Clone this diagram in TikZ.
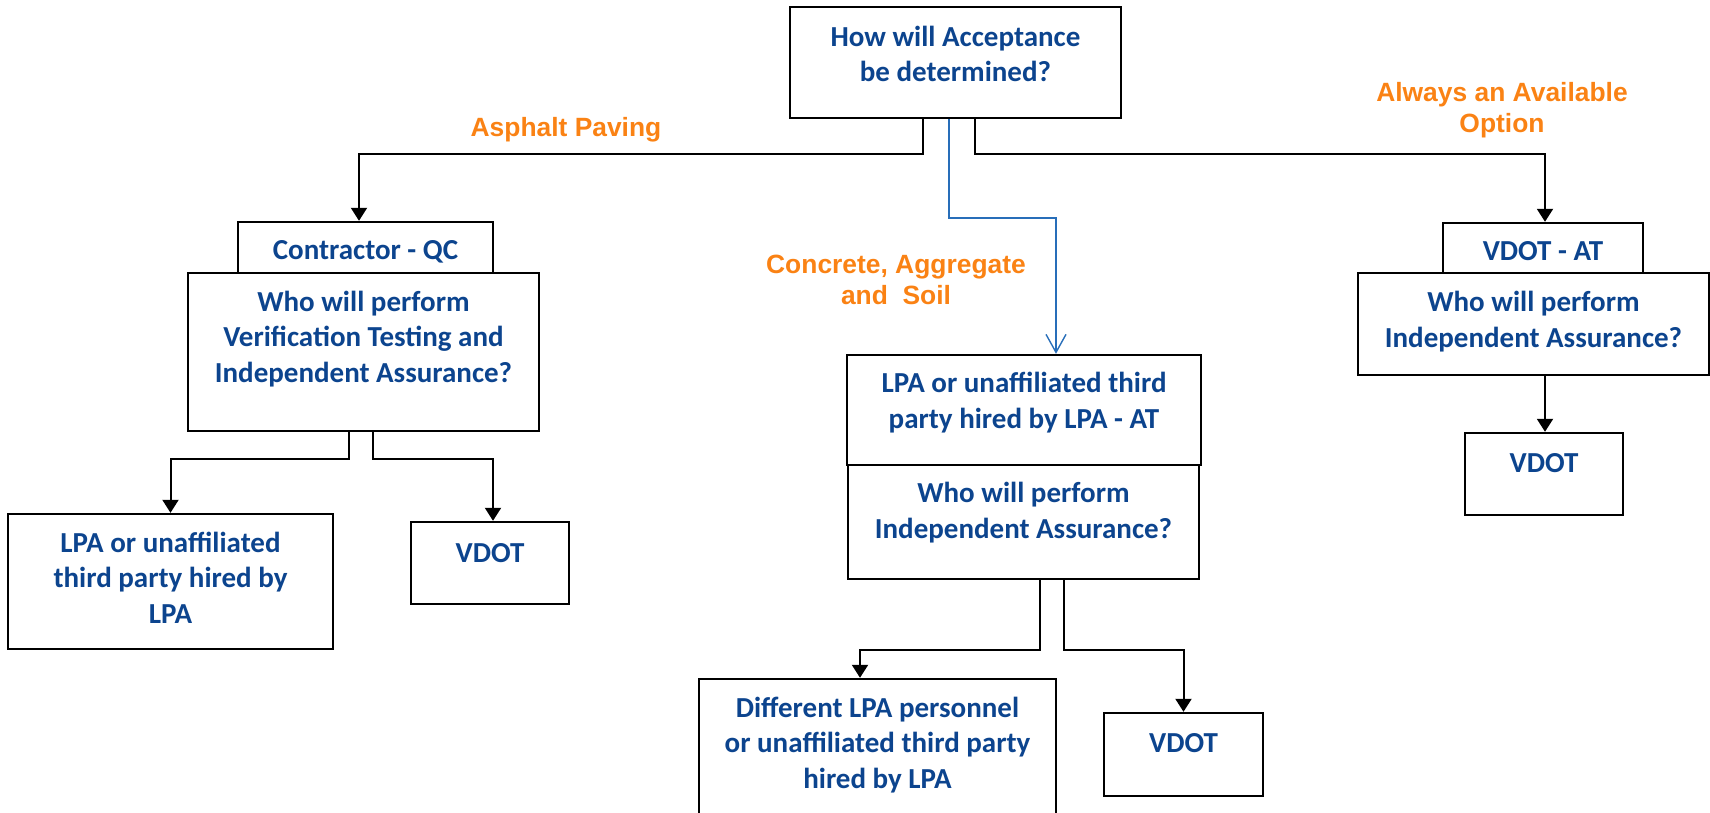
\documentclass[tikz,border=0pt]{standalone}
\usepackage{fontspec}
\setmainfont{Carlito}
\newfontfamily\arialfont{Liberation Sans}
\usetikzlibrary{arrows.meta}

\definecolor{textblue}{RGB}{12,68,142}
\definecolor{pathorange}{RGB}{250,130,20}
\definecolor{lineblue}{RGB}{40,110,185}

\tikzset{
  box/.style={draw, line width=1.2pt, inner sep=0pt},
  boxtext/.style={font=\bfseries\fontsize{14.5}{17.75}\selectfont, text=textblue, align=center, anchor=base, inner sep=0pt},
  pathlabel/.style={font=\arialfont\bfseries\fontsize{13.2}{15.5}\selectfont, text=pathorange, align=center, anchor=base, inner sep=0pt},
  arr/.style={line width=1pt, -{Triangle[width=8pt,length=6.5pt]}},
  bluearr/.style={draw=lineblue, line width=0.7pt, -{Straight Barb[width=10pt,length=9pt]}}
}

\begin{document}
\begin{tikzpicture}[x=0.5pt, y=-0.5pt]
    \useasboundingbox (0,0) rectangle (1710,813);

    % boxes
    \node[box, minimum width=165.5pt, minimum height=55.5pt] (accept) at (955.5,62.5) {};
    \node[box, minimum width=127.5pt, minimum height=25.5pt] (contractor) at (365.5,247.5) {};
    \node[box, minimum width=175.5pt, minimum height=79pt] (whoVT) at (363.5,352) {};
    \node[box, minimum width=162.5pt, minimum height=67.5pt] (lpaL) at (170.5,581.5) {};
    \node[box, minimum width=79pt, minimum height=41pt] (vdotL) at (490,563) {};
    \node[box, minimum width=177pt, minimum height=55pt] (lpaAT) at (1024,410) {};
    \node[box, minimum width=175.5pt, minimum height=57pt] (whoIAm) at (1023.5,522) {};
    \node[box, minimum width=178.5pt, minimum height=69.5pt] (diffLPA) at (877.5,748.5) {};
    \node[box, minimum width=79.5pt, minimum height=41.5pt] (vdotM) at (1183.5,754.5) {};
    \node[box, minimum width=100pt, minimum height=25pt] (vdotAT) at (1543,248) {};
    \node[box, minimum width=175.5pt, minimum height=51pt] (whoIAr) at (1533.5,324) {};
    \node[box, minimum width=79pt, minimum height=41pt] (vdotR) at (1544,474) {};

    % box texts (base = last line)
    \node[boxtext] (acceptT) at (955.5,82) {How will Acceptance\\be determined?};
    \node[boxtext] (contractorT) at (365.5,259) {Contractor - QC};
    \node[boxtext] (whoVTT) at (363.5,382) {Who will perform\\Verification Testing and\\Independent Assurance?};
    \node[boxtext] (lpaLT) at (170.5,623) {LPA or unaffiliated\\third party hired by\\LPA};
    \node[boxtext] (vdotLT) at (490,562) {VDOT};
    \node[boxtext] (lpaATT) at (1024,428) {LPA or unaffiliated third\\party hired by LPA - AT};
    \node[boxtext] (whoIAmT) at (1023.5,538) {Who will perform\\Independent Assurance?};
    \node[boxtext] (diffLPAT) at (877.5,788) {Different LPA personnel\\or unaffiliated third party\\hired by LPA};
    \node[boxtext] (vdotMT) at (1183.5,752) {VDOT};
    \node[boxtext] (vdotATT) at (1543,261) {VDOT - AT};
    \node[boxtext] (whoIArT) at (1533.5,347) {Who will perform\\Independent Assurance?};
    \node[boxtext] (vdotRT) at (1544,472) {VDOT};

    % path labels
    \node[pathlabel] (asphalt) at (566,137) {Asphalt Paving};
    \node[pathlabel] (always) at (1502,133) {Always an Available\\Option};
    \node[pathlabel] (concrete) at (896,304) {Concrete, Aggregate\\and\ \ Soil};

    % connectors
    \draw[arr] ([xshift=-16.25pt]accept.south) -- ++(0,35) -| ([xshift=-3.25pt]contractor.north);
    \draw[arr] ([xshift=9.75pt]accept.south) -- ++(0,35) -| ([xshift=1pt]vdotAT.north);
    \draw[bluearr] ([xshift=-3.25pt]accept.south) -- ++(0,99) -| ([xshift=16pt]lpaAT.north);
    \draw[arr] ([xshift=-7.25pt]whoVT.south) -- ++(0,27) -| (lpaL.north);
    \draw[arr] ([xshift=4.75pt]whoVT.south) -- ++(0,27) -| ([xshift=1.5pt]vdotL.north);
    \draw[arr] ([xshift=8.25pt]whoIAm.south) -- ++(0,70) -| ([xshift=-8.75pt]diffLPA.north);
    \draw[arr] ([xshift=20.25pt]whoIAm.south) -- ++(0,70) -| (vdotM.north);
    \draw[arr] ([xshift=5.75pt]whoIAr.south) -- ([xshift=5.75pt]whoIAr.south |- vdotR.north);
\end{tikzpicture}
\end{document}
